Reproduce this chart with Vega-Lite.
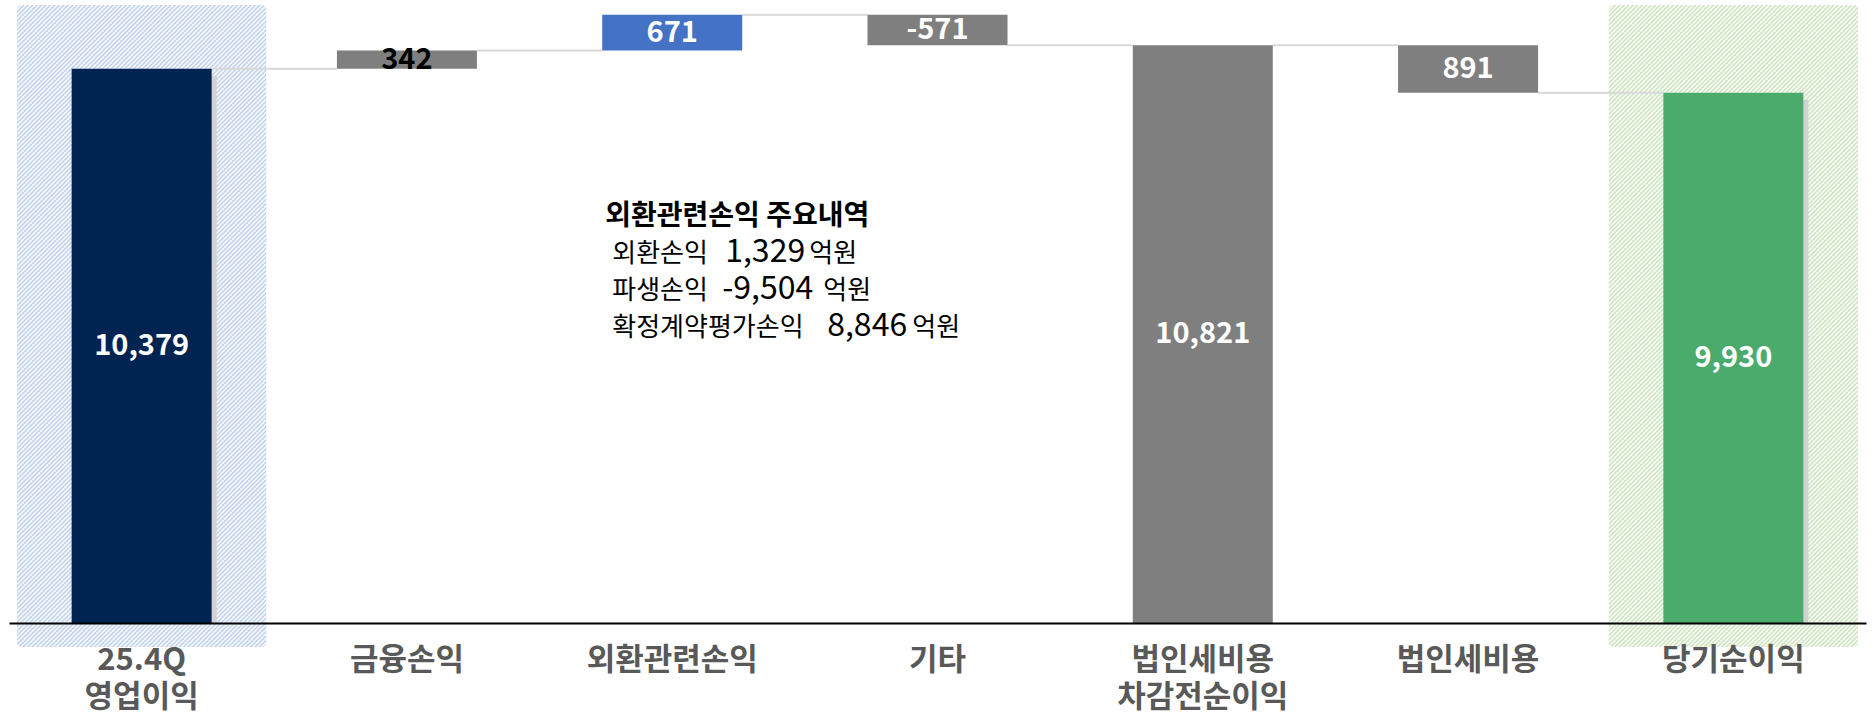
{
 "$schema": "https://vega.github.io/schema/vega-lite/v6.json",
 "autosize": "none",
 "width": 1857,
 "height": 623,
 "padding": {"left": 9, "top": 0, "right": 9, "bottom": 95},
 "background": "white",
 "config": {"view": {"stroke": null}, "font": "Noto Sans CJK KR"},
 "data": {"values": [
  {"cat": "25.4Q|영업이익", "label": "10,379", "start": 0, "end": 10379, "kind": "op", "next": "금융손익"},
  {"cat": "금융손익", "label": "342", "start": 10379, "end": 10721, "kind": "other", "next": "외환관련손익"},
  {"cat": "외환관련손익", "label": "671", "start": 10721, "end": 11392, "kind": "fx", "next": "기타"},
  {"cat": "기타", "label": "-571", "start": 11392, "end": 10821, "kind": "other", "next": "법인세비용|차감전순이익"},
  {"cat": "법인세비용|차감전순이익", "label": "10,821", "start": 0, "end": 10821, "kind": "sub", "next": "법인세비용"},
  {"cat": "법인세비용", "label": "891", "start": 10821, "end": 9930, "kind": "other", "next": "당기순이익"},
  {"cat": "당기순이익", "label": "9,930", "start": 0, "end": 9930, "kind": "net", "next": null}
 ]},
 "encoding": {
  "x": {"field": "cat", "type": "nominal", "sort": null,
   "scale": {"domain": ["25.4Q|영업이익", "금융손익", "외환관련손익", "기타", "법인세비용|차감전순이익", "법인세비용", "당기순이익"], "paddingInner": 0.472, "paddingOuter": 0.236},
   "axis": {"title": null, "labelAngle": 0, "ticks": false, "domainColor": "#000000", "domainWidth": 2, "labelFontSize": 31, "labelFontWeight": "bold", "labelColor": "#595959", "labelFont": "Noto Sans CJK KR", "labelPadding": 22, "labelLineHeight": 37, "labelExpr": "split(datum.label, '|')", "labelOverlap": false, "grid": false, "zindex": 1, "labelBaseline": "top"}}
 },
 "layer": [
  {"transform": [{"filter": "datum.kind === 'op' || datum.kind === 'net'"}],
   "mark": {"type": "bar", "width": 249, "cornerRadius": 4},
   "encoding": {
    "y": {"datum": 11573, "type": "quantitative", "scale": {"domain": [0, 11667], "nice": false, "zero": false}, "axis": null},
    "y2": {"datum": -449},
    "fill": {"condition": {"test": "datum.kind === 'op'", "value": "#bbcde9"}, "value": "#c9e1b9"}
   }},
  {"transform": [{"filter": "datum.kind === 'op' || datum.kind === 'net'"}],
   "mark": {"type": "bar", "width": 249, "cornerRadius": 4,
    "fill": {"gradient": "linear", "x1": 0, "y1": 0, "x2": 0.4679, "y2": 1.2064, "stops": [
{"offset":0.00,"color":"#fff"},{"offset":0.0025,"color":"rgba(255,255,255,0)"},{"offset":0.005,"color":"#fff"},{"offset":0.0075,"color":"rgba(255,255,255,0)"},
{"offset":0.01,"color":"#fff"},{"offset":0.0125,"color":"rgba(255,255,255,0)"},{"offset":0.015,"color":"#fff"},{"offset":0.0175,"color":"rgba(255,255,255,0)"},
{"offset":0.02,"color":"#fff"},{"offset":0.0225,"color":"rgba(255,255,255,0)"},{"offset":0.025,"color":"#fff"},{"offset":0.0275,"color":"rgba(255,255,255,0)"},
{"offset":0.03,"color":"#fff"},{"offset":0.0325,"color":"rgba(255,255,255,0)"},{"offset":0.035,"color":"#fff"},{"offset":0.0375,"color":"rgba(255,255,255,0)"},
{"offset":0.04,"color":"#fff"},{"offset":0.0425,"color":"rgba(255,255,255,0)"},{"offset":0.045,"color":"#fff"},{"offset":0.0475,"color":"rgba(255,255,255,0)"},
{"offset":0.05,"color":"#fff"},{"offset":0.0525,"color":"rgba(255,255,255,0)"},{"offset":0.055,"color":"#fff"},{"offset":0.0575,"color":"rgba(255,255,255,0)"},
{"offset":0.06,"color":"#fff"},{"offset":0.0625,"color":"rgba(255,255,255,0)"},{"offset":0.065,"color":"#fff"},{"offset":0.0675,"color":"rgba(255,255,255,0)"},
{"offset":0.07,"color":"#fff"},{"offset":0.0725,"color":"rgba(255,255,255,0)"},{"offset":0.075,"color":"#fff"},{"offset":0.0775,"color":"rgba(255,255,255,0)"},
{"offset":0.08,"color":"#fff"},{"offset":0.0825,"color":"rgba(255,255,255,0)"},{"offset":0.085,"color":"#fff"},{"offset":0.0875,"color":"rgba(255,255,255,0)"},
{"offset":0.09,"color":"#fff"},{"offset":0.0925,"color":"rgba(255,255,255,0)"},{"offset":0.095,"color":"#fff"},{"offset":0.0975,"color":"rgba(255,255,255,0)"},
{"offset":0.10,"color":"#fff"},{"offset":0.1025,"color":"rgba(255,255,255,0)"},{"offset":0.105,"color":"#fff"},{"offset":0.1075,"color":"rgba(255,255,255,0)"},
{"offset":0.11,"color":"#fff"},{"offset":0.1125,"color":"rgba(255,255,255,0)"},{"offset":0.115,"color":"#fff"},{"offset":0.1175,"color":"rgba(255,255,255,0)"},
{"offset":0.12,"color":"#fff"},{"offset":0.1225,"color":"rgba(255,255,255,0)"},{"offset":0.125,"color":"#fff"},{"offset":0.1275,"color":"rgba(255,255,255,0)"},
{"offset":0.13,"color":"#fff"},{"offset":0.1325,"color":"rgba(255,255,255,0)"},{"offset":0.135,"color":"#fff"},{"offset":0.1375,"color":"rgba(255,255,255,0)"},
{"offset":0.14,"color":"#fff"},{"offset":0.1425,"color":"rgba(255,255,255,0)"},{"offset":0.145,"color":"#fff"},{"offset":0.1475,"color":"rgba(255,255,255,0)"},
{"offset":0.15,"color":"#fff"},{"offset":0.1525,"color":"rgba(255,255,255,0)"},{"offset":0.155,"color":"#fff"},{"offset":0.1575,"color":"rgba(255,255,255,0)"},
{"offset":0.16,"color":"#fff"},{"offset":0.1625,"color":"rgba(255,255,255,0)"},{"offset":0.165,"color":"#fff"},{"offset":0.1675,"color":"rgba(255,255,255,0)"},
{"offset":0.17,"color":"#fff"},{"offset":0.1725,"color":"rgba(255,255,255,0)"},{"offset":0.175,"color":"#fff"},{"offset":0.1775,"color":"rgba(255,255,255,0)"},
{"offset":0.18,"color":"#fff"},{"offset":0.1825,"color":"rgba(255,255,255,0)"},{"offset":0.185,"color":"#fff"},{"offset":0.1875,"color":"rgba(255,255,255,0)"},
{"offset":0.19,"color":"#fff"},{"offset":0.1925,"color":"rgba(255,255,255,0)"},{"offset":0.195,"color":"#fff"},{"offset":0.1975,"color":"rgba(255,255,255,0)"},
{"offset":0.20,"color":"#fff"},{"offset":0.2025,"color":"rgba(255,255,255,0)"},{"offset":0.205,"color":"#fff"},{"offset":0.2075,"color":"rgba(255,255,255,0)"},
{"offset":0.21,"color":"#fff"},{"offset":0.2125,"color":"rgba(255,255,255,0)"},{"offset":0.215,"color":"#fff"},{"offset":0.2175,"color":"rgba(255,255,255,0)"},
{"offset":0.22,"color":"#fff"},{"offset":0.2225,"color":"rgba(255,255,255,0)"},{"offset":0.225,"color":"#fff"},{"offset":0.2275,"color":"rgba(255,255,255,0)"},
{"offset":0.23,"color":"#fff"},{"offset":0.2325,"color":"rgba(255,255,255,0)"},{"offset":0.235,"color":"#fff"},{"offset":0.2375,"color":"rgba(255,255,255,0)"},
{"offset":0.24,"color":"#fff"},{"offset":0.2425,"color":"rgba(255,255,255,0)"},{"offset":0.245,"color":"#fff"},{"offset":0.2475,"color":"rgba(255,255,255,0)"},
{"offset":0.25,"color":"#fff"},{"offset":0.2525,"color":"rgba(255,255,255,0)"},{"offset":0.255,"color":"#fff"},{"offset":0.2575,"color":"rgba(255,255,255,0)"},
{"offset":0.26,"color":"#fff"},{"offset":0.2625,"color":"rgba(255,255,255,0)"},{"offset":0.265,"color":"#fff"},{"offset":0.2675,"color":"rgba(255,255,255,0)"},
{"offset":0.27,"color":"#fff"},{"offset":0.2725,"color":"rgba(255,255,255,0)"},{"offset":0.275,"color":"#fff"},{"offset":0.2775,"color":"rgba(255,255,255,0)"},
{"offset":0.28,"color":"#fff"},{"offset":0.2825,"color":"rgba(255,255,255,0)"},{"offset":0.285,"color":"#fff"},{"offset":0.2875,"color":"rgba(255,255,255,0)"},
{"offset":0.29,"color":"#fff"},{"offset":0.2925,"color":"rgba(255,255,255,0)"},{"offset":0.295,"color":"#fff"},{"offset":0.2975,"color":"rgba(255,255,255,0)"},
{"offset":0.30,"color":"#fff"},{"offset":0.3025,"color":"rgba(255,255,255,0)"},{"offset":0.305,"color":"#fff"},{"offset":0.3075,"color":"rgba(255,255,255,0)"},
{"offset":0.31,"color":"#fff"},{"offset":0.3125,"color":"rgba(255,255,255,0)"},{"offset":0.315,"color":"#fff"},{"offset":0.3175,"color":"rgba(255,255,255,0)"},
{"offset":0.32,"color":"#fff"},{"offset":0.3225,"color":"rgba(255,255,255,0)"},{"offset":0.325,"color":"#fff"},{"offset":0.3275,"color":"rgba(255,255,255,0)"},
{"offset":0.33,"color":"#fff"},{"offset":0.3325,"color":"rgba(255,255,255,0)"},{"offset":0.335,"color":"#fff"},{"offset":0.3375,"color":"rgba(255,255,255,0)"},
{"offset":0.34,"color":"#fff"},{"offset":0.3425,"color":"rgba(255,255,255,0)"},{"offset":0.345,"color":"#fff"},{"offset":0.3475,"color":"rgba(255,255,255,0)"},
{"offset":0.35,"color":"#fff"},{"offset":0.3525,"color":"rgba(255,255,255,0)"},{"offset":0.355,"color":"#fff"},{"offset":0.3575,"color":"rgba(255,255,255,0)"},
{"offset":0.36,"color":"#fff"},{"offset":0.3625,"color":"rgba(255,255,255,0)"},{"offset":0.365,"color":"#fff"},{"offset":0.3675,"color":"rgba(255,255,255,0)"},
{"offset":0.37,"color":"#fff"},{"offset":0.3725,"color":"rgba(255,255,255,0)"},{"offset":0.375,"color":"#fff"},{"offset":0.3775,"color":"rgba(255,255,255,0)"},
{"offset":0.38,"color":"#fff"},{"offset":0.3825,"color":"rgba(255,255,255,0)"},{"offset":0.385,"color":"#fff"},{"offset":0.3875,"color":"rgba(255,255,255,0)"},
{"offset":0.39,"color":"#fff"},{"offset":0.3925,"color":"rgba(255,255,255,0)"},{"offset":0.395,"color":"#fff"},{"offset":0.3975,"color":"rgba(255,255,255,0)"},
{"offset":0.40,"color":"#fff"},{"offset":0.4025,"color":"rgba(255,255,255,0)"},{"offset":0.405,"color":"#fff"},{"offset":0.4075,"color":"rgba(255,255,255,0)"},
{"offset":0.41,"color":"#fff"},{"offset":0.4125,"color":"rgba(255,255,255,0)"},{"offset":0.415,"color":"#fff"},{"offset":0.4175,"color":"rgba(255,255,255,0)"},
{"offset":0.42,"color":"#fff"},{"offset":0.4225,"color":"rgba(255,255,255,0)"},{"offset":0.425,"color":"#fff"},{"offset":0.4275,"color":"rgba(255,255,255,0)"},
{"offset":0.43,"color":"#fff"},{"offset":0.4325,"color":"rgba(255,255,255,0)"},{"offset":0.435,"color":"#fff"},{"offset":0.4375,"color":"rgba(255,255,255,0)"},
{"offset":0.44,"color":"#fff"},{"offset":0.4425,"color":"rgba(255,255,255,0)"},{"offset":0.445,"color":"#fff"},{"offset":0.4475,"color":"rgba(255,255,255,0)"},
{"offset":0.45,"color":"#fff"},{"offset":0.4525,"color":"rgba(255,255,255,0)"},{"offset":0.455,"color":"#fff"},{"offset":0.4575,"color":"rgba(255,255,255,0)"},
{"offset":0.46,"color":"#fff"},{"offset":0.4625,"color":"rgba(255,255,255,0)"},{"offset":0.465,"color":"#fff"},{"offset":0.4675,"color":"rgba(255,255,255,0)"},
{"offset":0.47,"color":"#fff"},{"offset":0.4725,"color":"rgba(255,255,255,0)"},{"offset":0.475,"color":"#fff"},{"offset":0.4775,"color":"rgba(255,255,255,0)"},
{"offset":0.48,"color":"#fff"},{"offset":0.4825,"color":"rgba(255,255,255,0)"},{"offset":0.485,"color":"#fff"},{"offset":0.4875,"color":"rgba(255,255,255,0)"},
{"offset":0.49,"color":"#fff"},{"offset":0.4925,"color":"rgba(255,255,255,0)"},{"offset":0.495,"color":"#fff"},{"offset":0.4975,"color":"rgba(255,255,255,0)"},
{"offset":0.50,"color":"#fff"},{"offset":0.5025,"color":"rgba(255,255,255,0)"},{"offset":0.505,"color":"#fff"},{"offset":0.5075,"color":"rgba(255,255,255,0)"},
{"offset":0.51,"color":"#fff"},{"offset":0.5125,"color":"rgba(255,255,255,0)"},{"offset":0.515,"color":"#fff"},{"offset":0.5175,"color":"rgba(255,255,255,0)"},
{"offset":0.52,"color":"#fff"},{"offset":0.5225,"color":"rgba(255,255,255,0)"},{"offset":0.525,"color":"#fff"},{"offset":0.5275,"color":"rgba(255,255,255,0)"},
{"offset":0.53,"color":"#fff"},{"offset":0.5325,"color":"rgba(255,255,255,0)"},{"offset":0.535,"color":"#fff"},{"offset":0.5375,"color":"rgba(255,255,255,0)"},
{"offset":0.54,"color":"#fff"},{"offset":0.5425,"color":"rgba(255,255,255,0)"},{"offset":0.545,"color":"#fff"},{"offset":0.5475,"color":"rgba(255,255,255,0)"},
{"offset":0.55,"color":"#fff"},{"offset":0.5525,"color":"rgba(255,255,255,0)"},{"offset":0.555,"color":"#fff"},{"offset":0.5575,"color":"rgba(255,255,255,0)"},
{"offset":0.56,"color":"#fff"},{"offset":0.5625,"color":"rgba(255,255,255,0)"},{"offset":0.565,"color":"#fff"},{"offset":0.5675,"color":"rgba(255,255,255,0)"},
{"offset":0.57,"color":"#fff"},{"offset":0.5725,"color":"rgba(255,255,255,0)"},{"offset":0.575,"color":"#fff"},{"offset":0.5775,"color":"rgba(255,255,255,0)"},
{"offset":0.58,"color":"#fff"},{"offset":0.5825,"color":"rgba(255,255,255,0)"},{"offset":0.585,"color":"#fff"},{"offset":0.5875,"color":"rgba(255,255,255,0)"},
{"offset":0.59,"color":"#fff"},{"offset":0.5925,"color":"rgba(255,255,255,0)"},{"offset":0.595,"color":"#fff"},{"offset":0.5975,"color":"rgba(255,255,255,0)"},
{"offset":0.60,"color":"#fff"},{"offset":0.6025,"color":"rgba(255,255,255,0)"},{"offset":0.605,"color":"#fff"},{"offset":0.6075,"color":"rgba(255,255,255,0)"},
{"offset":0.61,"color":"#fff"},{"offset":0.6125,"color":"rgba(255,255,255,0)"},{"offset":0.615,"color":"#fff"},{"offset":0.6175,"color":"rgba(255,255,255,0)"},
{"offset":0.62,"color":"#fff"},{"offset":0.6225,"color":"rgba(255,255,255,0)"},{"offset":0.625,"color":"#fff"},{"offset":0.6275,"color":"rgba(255,255,255,0)"},
{"offset":0.63,"color":"#fff"},{"offset":0.6325,"color":"rgba(255,255,255,0)"},{"offset":0.635,"color":"#fff"},{"offset":0.6375,"color":"rgba(255,255,255,0)"},
{"offset":0.64,"color":"#fff"},{"offset":0.6425,"color":"rgba(255,255,255,0)"},{"offset":0.645,"color":"#fff"},{"offset":0.6475,"color":"rgba(255,255,255,0)"},
{"offset":0.65,"color":"#fff"},{"offset":0.6525,"color":"rgba(255,255,255,0)"},{"offset":0.655,"color":"#fff"},{"offset":0.6575,"color":"rgba(255,255,255,0)"},
{"offset":0.66,"color":"#fff"},{"offset":0.6625,"color":"rgba(255,255,255,0)"},{"offset":0.665,"color":"#fff"},{"offset":0.6675,"color":"rgba(255,255,255,0)"},
{"offset":0.67,"color":"#fff"},{"offset":0.6725,"color":"rgba(255,255,255,0)"},{"offset":0.675,"color":"#fff"},{"offset":0.6775,"color":"rgba(255,255,255,0)"},
{"offset":0.68,"color":"#fff"},{"offset":0.6825,"color":"rgba(255,255,255,0)"},{"offset":0.685,"color":"#fff"},{"offset":0.6875,"color":"rgba(255,255,255,0)"},
{"offset":0.69,"color":"#fff"},{"offset":0.6925,"color":"rgba(255,255,255,0)"},{"offset":0.695,"color":"#fff"},{"offset":0.6975,"color":"rgba(255,255,255,0)"},
{"offset":0.70,"color":"#fff"},{"offset":0.7025,"color":"rgba(255,255,255,0)"},{"offset":0.705,"color":"#fff"},{"offset":0.7075,"color":"rgba(255,255,255,0)"},
{"offset":0.71,"color":"#fff"},{"offset":0.7125,"color":"rgba(255,255,255,0)"},{"offset":0.715,"color":"#fff"},{"offset":0.7175,"color":"rgba(255,255,255,0)"},
{"offset":0.72,"color":"#fff"},{"offset":0.7225,"color":"rgba(255,255,255,0)"},{"offset":0.725,"color":"#fff"},{"offset":0.7275,"color":"rgba(255,255,255,0)"},
{"offset":0.73,"color":"#fff"},{"offset":0.7325,"color":"rgba(255,255,255,0)"},{"offset":0.735,"color":"#fff"},{"offset":0.7375,"color":"rgba(255,255,255,0)"},
{"offset":0.74,"color":"#fff"},{"offset":0.7425,"color":"rgba(255,255,255,0)"},{"offset":0.745,"color":"#fff"},{"offset":0.7475,"color":"rgba(255,255,255,0)"},
{"offset":0.75,"color":"#fff"},{"offset":0.7525,"color":"rgba(255,255,255,0)"},{"offset":0.755,"color":"#fff"},{"offset":0.7575,"color":"rgba(255,255,255,0)"},
{"offset":0.76,"color":"#fff"},{"offset":0.7625,"color":"rgba(255,255,255,0)"},{"offset":0.765,"color":"#fff"},{"offset":0.7675,"color":"rgba(255,255,255,0)"},
{"offset":0.77,"color":"#fff"},{"offset":0.7725,"color":"rgba(255,255,255,0)"},{"offset":0.775,"color":"#fff"},{"offset":0.7775,"color":"rgba(255,255,255,0)"},
{"offset":0.78,"color":"#fff"},{"offset":0.7825,"color":"rgba(255,255,255,0)"},{"offset":0.785,"color":"#fff"},{"offset":0.7875,"color":"rgba(255,255,255,0)"},
{"offset":0.79,"color":"#fff"},{"offset":0.7925,"color":"rgba(255,255,255,0)"},{"offset":0.795,"color":"#fff"},{"offset":0.7975,"color":"rgba(255,255,255,0)"},
{"offset":0.80,"color":"#fff"},{"offset":0.8025,"color":"rgba(255,255,255,0)"},{"offset":0.805,"color":"#fff"},{"offset":0.8075,"color":"rgba(255,255,255,0)"},
{"offset":0.81,"color":"#fff"},{"offset":0.8125,"color":"rgba(255,255,255,0)"},{"offset":0.815,"color":"#fff"},{"offset":0.8175,"color":"rgba(255,255,255,0)"},
{"offset":0.82,"color":"#fff"},{"offset":0.8225,"color":"rgba(255,255,255,0)"},{"offset":0.825,"color":"#fff"},{"offset":0.8275,"color":"rgba(255,255,255,0)"},
{"offset":0.83,"color":"#fff"},{"offset":0.8325,"color":"rgba(255,255,255,0)"},{"offset":0.835,"color":"#fff"},{"offset":0.8375,"color":"rgba(255,255,255,0)"},
{"offset":0.84,"color":"#fff"},{"offset":0.8425,"color":"rgba(255,255,255,0)"},{"offset":0.845,"color":"#fff"},{"offset":0.8475,"color":"rgba(255,255,255,0)"},
{"offset":0.85,"color":"#fff"},{"offset":0.8525,"color":"rgba(255,255,255,0)"},{"offset":0.855,"color":"#fff"},{"offset":0.8575,"color":"rgba(255,255,255,0)"},
{"offset":0.86,"color":"#fff"},{"offset":0.8625,"color":"rgba(255,255,255,0)"},{"offset":0.865,"color":"#fff"},{"offset":0.8675,"color":"rgba(255,255,255,0)"},
{"offset":0.87,"color":"#fff"},{"offset":0.8725,"color":"rgba(255,255,255,0)"},{"offset":0.875,"color":"#fff"},{"offset":0.8775,"color":"rgba(255,255,255,0)"},
{"offset":0.88,"color":"#fff"},{"offset":0.8825,"color":"rgba(255,255,255,0)"},{"offset":0.885,"color":"#fff"},{"offset":0.8875,"color":"rgba(255,255,255,0)"},
{"offset":0.89,"color":"#fff"},{"offset":0.8925,"color":"rgba(255,255,255,0)"},{"offset":0.895,"color":"#fff"},{"offset":0.8975,"color":"rgba(255,255,255,0)"},
{"offset":0.90,"color":"#fff"},{"offset":0.9025,"color":"rgba(255,255,255,0)"},{"offset":0.905,"color":"#fff"},{"offset":0.9075,"color":"rgba(255,255,255,0)"},
{"offset":0.91,"color":"#fff"},{"offset":0.9125,"color":"rgba(255,255,255,0)"},{"offset":0.915,"color":"#fff"},{"offset":0.9175,"color":"rgba(255,255,255,0)"},
{"offset":0.92,"color":"#fff"},{"offset":0.9225,"color":"rgba(255,255,255,0)"},{"offset":0.925,"color":"#fff"},{"offset":0.9275,"color":"rgba(255,255,255,0)"},
{"offset":0.93,"color":"#fff"},{"offset":0.9325,"color":"rgba(255,255,255,0)"},{"offset":0.935,"color":"#fff"},{"offset":0.9375,"color":"rgba(255,255,255,0)"},
{"offset":0.94,"color":"#fff"},{"offset":0.9425,"color":"rgba(255,255,255,0)"},{"offset":0.945,"color":"#fff"},{"offset":0.9475,"color":"rgba(255,255,255,0)"},
{"offset":0.95,"color":"#fff"},{"offset":0.9525,"color":"rgba(255,255,255,0)"},{"offset":0.955,"color":"#fff"},{"offset":0.9575,"color":"rgba(255,255,255,0)"},
{"offset":0.96,"color":"#fff"},{"offset":0.9625,"color":"rgba(255,255,255,0)"},{"offset":0.965,"color":"#fff"},{"offset":0.9675,"color":"rgba(255,255,255,0)"},
{"offset":0.97,"color":"#fff"},{"offset":0.9725,"color":"rgba(255,255,255,0)"},{"offset":0.975,"color":"#fff"},{"offset":0.9775,"color":"rgba(255,255,255,0)"},
{"offset":0.98,"color":"#fff"},{"offset":0.9825,"color":"rgba(255,255,255,0)"},{"offset":0.985,"color":"#fff"},{"offset":0.9875,"color":"rgba(255,255,255,0)"},
{"offset":0.99,"color":"#fff"},{"offset":0.9925,"color":"rgba(255,255,255,0)"},{"offset":0.995,"color":"#fff"},{"offset":0.9975,"color":"rgba(255,255,255,0)"},
{"offset":1,"color":"#fff"}
    ]}},
   "encoding": {
    "y": {"datum": 11573, "type": "quantitative", "scale": {"domain": [0, 11667], "nice": false, "zero": false}, "axis": null},
    "y2": {"datum": -449}
   }},
  {"transform": [{"filter": "datum.kind === 'op' || datum.kind === 'net'"}],
   "mark": {"type": "bar", "width": 140, "xOffset": 5, "yOffset": 7, "fill": "#d2d2d2"},
   "encoding": {
    "y": {"field": "end", "type": "quantitative", "scale": {"domain": [0, 11667], "nice": false, "zero": false}, "axis": null},
    "y2": {"field": "start"}
   }},
  {"transform": [{"filter": "datum.next != null"}],
   "mark": {"type": "rule", "color": "#d9d9d9", "strokeWidth": 2, "xOffset": 70, "x2Offset": -70},
   "encoding": {
    "x2": {"field": "next"},
    "y": {"field": "end", "type": "quantitative", "scale": {"domain": [0, 11667], "nice": false, "zero": false}, "axis": null}
   }},
  {"mark": {"type": "bar", "width": 140},
   "encoding": {
    "y": {"field": "start", "type": "quantitative", "scale": {"domain": [0, 11667], "nice": false, "zero": false}, "axis": null},
    "y2": {"field": "end"},
    "color": {"field": "kind", "type": "nominal", "scale": {"domain": ["op", "other", "fx", "sub", "net"], "range": ["#002452", "#7f7f7f", "#4472c4", "#7f7f7f", "#4aab6d"]}, "legend": null}
   }},
  {"transform": [{"calculate": "(datum.start + datum.end) / 2", "as": "mid"}],
   "mark": {"type": "text", "fontSize": 29, "fontWeight": "bold", "font": "Noto Sans CJK KR", "baseline": "middle", "align": "center"},
   "encoding": {
    "y": {"field": "mid", "type": "quantitative", "scale": {"domain": [0, 11667], "nice": false, "zero": false}, "axis": null},
    "text": {"field": "label"},
    "color": {"condition": {"test": "datum.cat === '금융손익'", "value": "#000000"}, "value": "#ffffff"}
   }},
  {"data": {"values": [{"t": "외환관련손익 주요내역"}]},
   "mark": {"type": "text", "align": "left", "baseline": "alphabetic", "fontSize": 28, "fontWeight": "bold", "color": "#000000", "dx": -67, "dy": 8},
   "encoding": {"x": {"datum": "외환관련손익"}, "y": {"datum": 7603, "type": "quantitative", "scale": {"domain": [0, 11667], "nice": false, "zero": false}, "axis": null}, "text": {"field": "t"}}},
  {"data": {"values": [{"t": "외환손익"}]},
   "mark": {"type": "text", "align": "left", "baseline": "alphabetic", "fontSize": 26, "color": "#000000", "dx": -60, "dy": 45},
   "encoding": {"x": {"datum": "외환관련손익"}, "y": {"datum": 7603, "type": "quantitative", "scale": {"domain": [0, 11667], "nice": false, "zero": false}, "axis": null}, "text": {"field": "t"}}},
  {"data": {"values": [{"t": "1,329"}]},
   "mark": {"type": "text", "align": "left", "baseline": "alphabetic", "fontSize": 32, "color": "#000000", "dx": 53, "dy": 45},
   "encoding": {"x": {"datum": "외환관련손익"}, "y": {"datum": 7603, "type": "quantitative", "scale": {"domain": [0, 11667], "nice": false, "zero": false}, "axis": null}, "text": {"field": "t"}}},
  {"data": {"values": [{"t": "억원"}]},
   "mark": {"type": "text", "align": "left", "baseline": "alphabetic", "fontSize": 26, "color": "#000000", "dx": 137, "dy": 45},
   "encoding": {"x": {"datum": "외환관련손익"}, "y": {"datum": 7603, "type": "quantitative", "scale": {"domain": [0, 11667], "nice": false, "zero": false}, "axis": null}, "text": {"field": "t"}}},
  {"data": {"values": [{"t": "파생손익"}]},
   "mark": {"type": "text", "align": "left", "baseline": "alphabetic", "fontSize": 26, "color": "#000000", "dx": -60, "dy": 82},
   "encoding": {"x": {"datum": "외환관련손익"}, "y": {"datum": 7603, "type": "quantitative", "scale": {"domain": [0, 11667], "nice": false, "zero": false}, "axis": null}, "text": {"field": "t"}}},
  {"data": {"values": [{"t": "-9,504"}]},
   "mark": {"type": "text", "align": "left", "baseline": "alphabetic", "fontSize": 32, "color": "#000000", "dx": 50, "dy": 82},
   "encoding": {"x": {"datum": "외환관련손익"}, "y": {"datum": 7603, "type": "quantitative", "scale": {"domain": [0, 11667], "nice": false, "zero": false}, "axis": null}, "text": {"field": "t"}}},
  {"data": {"values": [{"t": "억원"}]},
   "mark": {"type": "text", "align": "left", "baseline": "alphabetic", "fontSize": 26, "color": "#000000", "dx": 151, "dy": 82},
   "encoding": {"x": {"datum": "외환관련손익"}, "y": {"datum": 7603, "type": "quantitative", "scale": {"domain": [0, 11667], "nice": false, "zero": false}, "axis": null}, "text": {"field": "t"}}},
  {"data": {"values": [{"t": "확정계약평가손익"}]},
   "mark": {"type": "text", "align": "left", "baseline": "alphabetic", "fontSize": 26, "color": "#000000", "dx": -60, "dy": 119},
   "encoding": {"x": {"datum": "외환관련손익"}, "y": {"datum": 7603, "type": "quantitative", "scale": {"domain": [0, 11667], "nice": false, "zero": false}, "axis": null}, "text": {"field": "t"}}},
  {"data": {"values": [{"t": "8,846"}]},
   "mark": {"type": "text", "align": "left", "baseline": "alphabetic", "fontSize": 32, "color": "#000000", "dx": 155, "dy": 119},
   "encoding": {"x": {"datum": "외환관련손익"}, "y": {"datum": 7603, "type": "quantitative", "scale": {"domain": [0, 11667], "nice": false, "zero": false}, "axis": null}, "text": {"field": "t"}}},
  {"data": {"values": [{"t": "억원"}]},
   "mark": {"type": "text", "align": "left", "baseline": "alphabetic", "fontSize": 26, "color": "#000000", "dx": 240, "dy": 119},
   "encoding": {"x": {"datum": "외환관련손익"}, "y": {"datum": 7603, "type": "quantitative", "scale": {"domain": [0, 11667], "nice": false, "zero": false}, "axis": null}, "text": {"field": "t"}}}
 ]
}
